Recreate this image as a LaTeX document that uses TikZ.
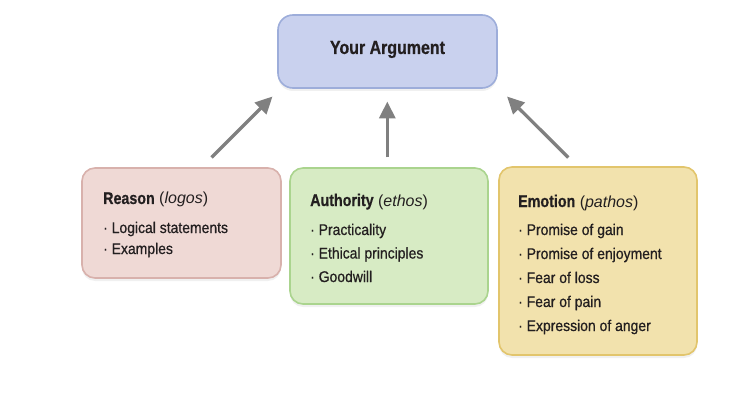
\documentclass[tikz,border=0pt]{standalone}
\usepackage{fontspec}
\setmainfont[FakeStretch=0.86]{Liberation Sans}
\newfontfamily\plainfont{Liberation Sans}
\newfontfamily\bodyfont[FakeStretch=0.9,FakeBold=0.7]{Liberation Sans}
\newfontfamily\headfont[FakeStretch=0.84,BoldFeatures={FakeBold=0.6}]{Liberation Sans}
\usetikzlibrary{arrows.meta,shadows}
\definecolor{topfill}{HTML}{C9D1EE}
\definecolor{topdraw}{HTML}{9DADDA}
\definecolor{reafill}{HTML}{EFD9D5}
\definecolor{readraw}{HTML}{D8B1AC}
\definecolor{autfill}{HTML}{D7EBC4}
\definecolor{autdraw}{HTML}{AAD48E}
\definecolor{emofill}{HTML}{F2E2AD}
\definecolor{emodraw}{HTML}{E2C56C}
\definecolor{arrowgray}{HTML}{808080}
\definecolor{txt}{HTML}{231F20}
\newcommand{\latin}[1]{\plainfont\fontsize{16}{18}\selectfont\ (\textit{#1})}
\tikzset{
  box/.style={draw, line width=1.6pt, rounded corners=13pt, inner sep=0pt,
    drop shadow={opacity=0.12, shadow xshift=0pt, shadow yshift=-3pt}},
  head/.style={anchor=base west, inner sep=0pt, font=\headfont\fontsize{17}{19}\selectfont, text=txt},
  item/.style={anchor=base west, inner sep=0pt, font=\bodyfont\fontsize{15.5}{17}\selectfont, text=txt},
  arr/.style={draw=arrowgray, line width=3.3pt, -{Triangle[length=17pt,width=16pt]}}
}
\begin{document}
\begin{tikzpicture}[x=1pt,y=-1pt]
\useasboundingbox (0,0) rectangle (731,401);
% boxes
\node[box, fill=topfill, draw=topdraw, minimum width=219pt, minimum height=73pt, rounded corners=15pt] (arg) at (387.5,51.5) {};
\node[box, fill=reafill, draw=readraw, minimum width=199pt, minimum height=110pt] (rea) at (181.5,223) {};
\node[box, fill=autfill, draw=autdraw, minimum width=198pt, minimum height=136pt] (aut) at (389,236) {};
\node[box, fill=emofill, draw=emodraw, minimum width=198pt, minimum height=188pt] (emo) at (598,261) {};
% title
\node[inner sep=0pt, font=\headfont\fontsize{19}{21}\selectfont\bfseries, text=txt, anchor=base] (argt) at (387.5,54) {Your Argument};
% reason
\node[head] (reah) at (103,204) {\textbf{Reason}\latin{logos}};
\node[item] (rea1) at (103,233) {· Logical statements};
\node[item] (rea2) at (103,254) {· Examples};
% authority
\node[head] (auth) at (310,206) {\textbf{Authority}\latin{ethos}};
\node[item] (aut1) at (310,235) {· Practicality};
\node[item] (aut2) at (310,258.5) {· Ethical principles};
\node[item] (aut3) at (310,282) {· Goodwill};
% emotion
\node[head] (emoh) at (518,207) {\textbf{Emotion}\latin{pathos}};
\node[item] (emo1) at (518,235) {· Promise of gain};
\node[item] (emo2) at (518,259) {· Promise of enjoyment};
\node[item] (emo3) at (518,283) {· Fear of loss};
\node[item] (emo4) at (518,307) {· Fear of pain};
\node[item] (emo5) at (518,331) {· Expression of anger};
% arrows
\coordinate (ls) at (211.5,157.5);
\coordinate (le) at (272.5,96.5);
\coordinate (ms) at (387.3,157.5);
\coordinate (me) at (387.3,101.5);
\coordinate (rs) at (568.3,157.5);
\coordinate (re) at (507,96.5);
\draw[arr] (ls) -- (le);
\draw[arr] (ms) -- (me);
\draw[arr] (rs) -- (re);
\end{tikzpicture}
\end{document}
